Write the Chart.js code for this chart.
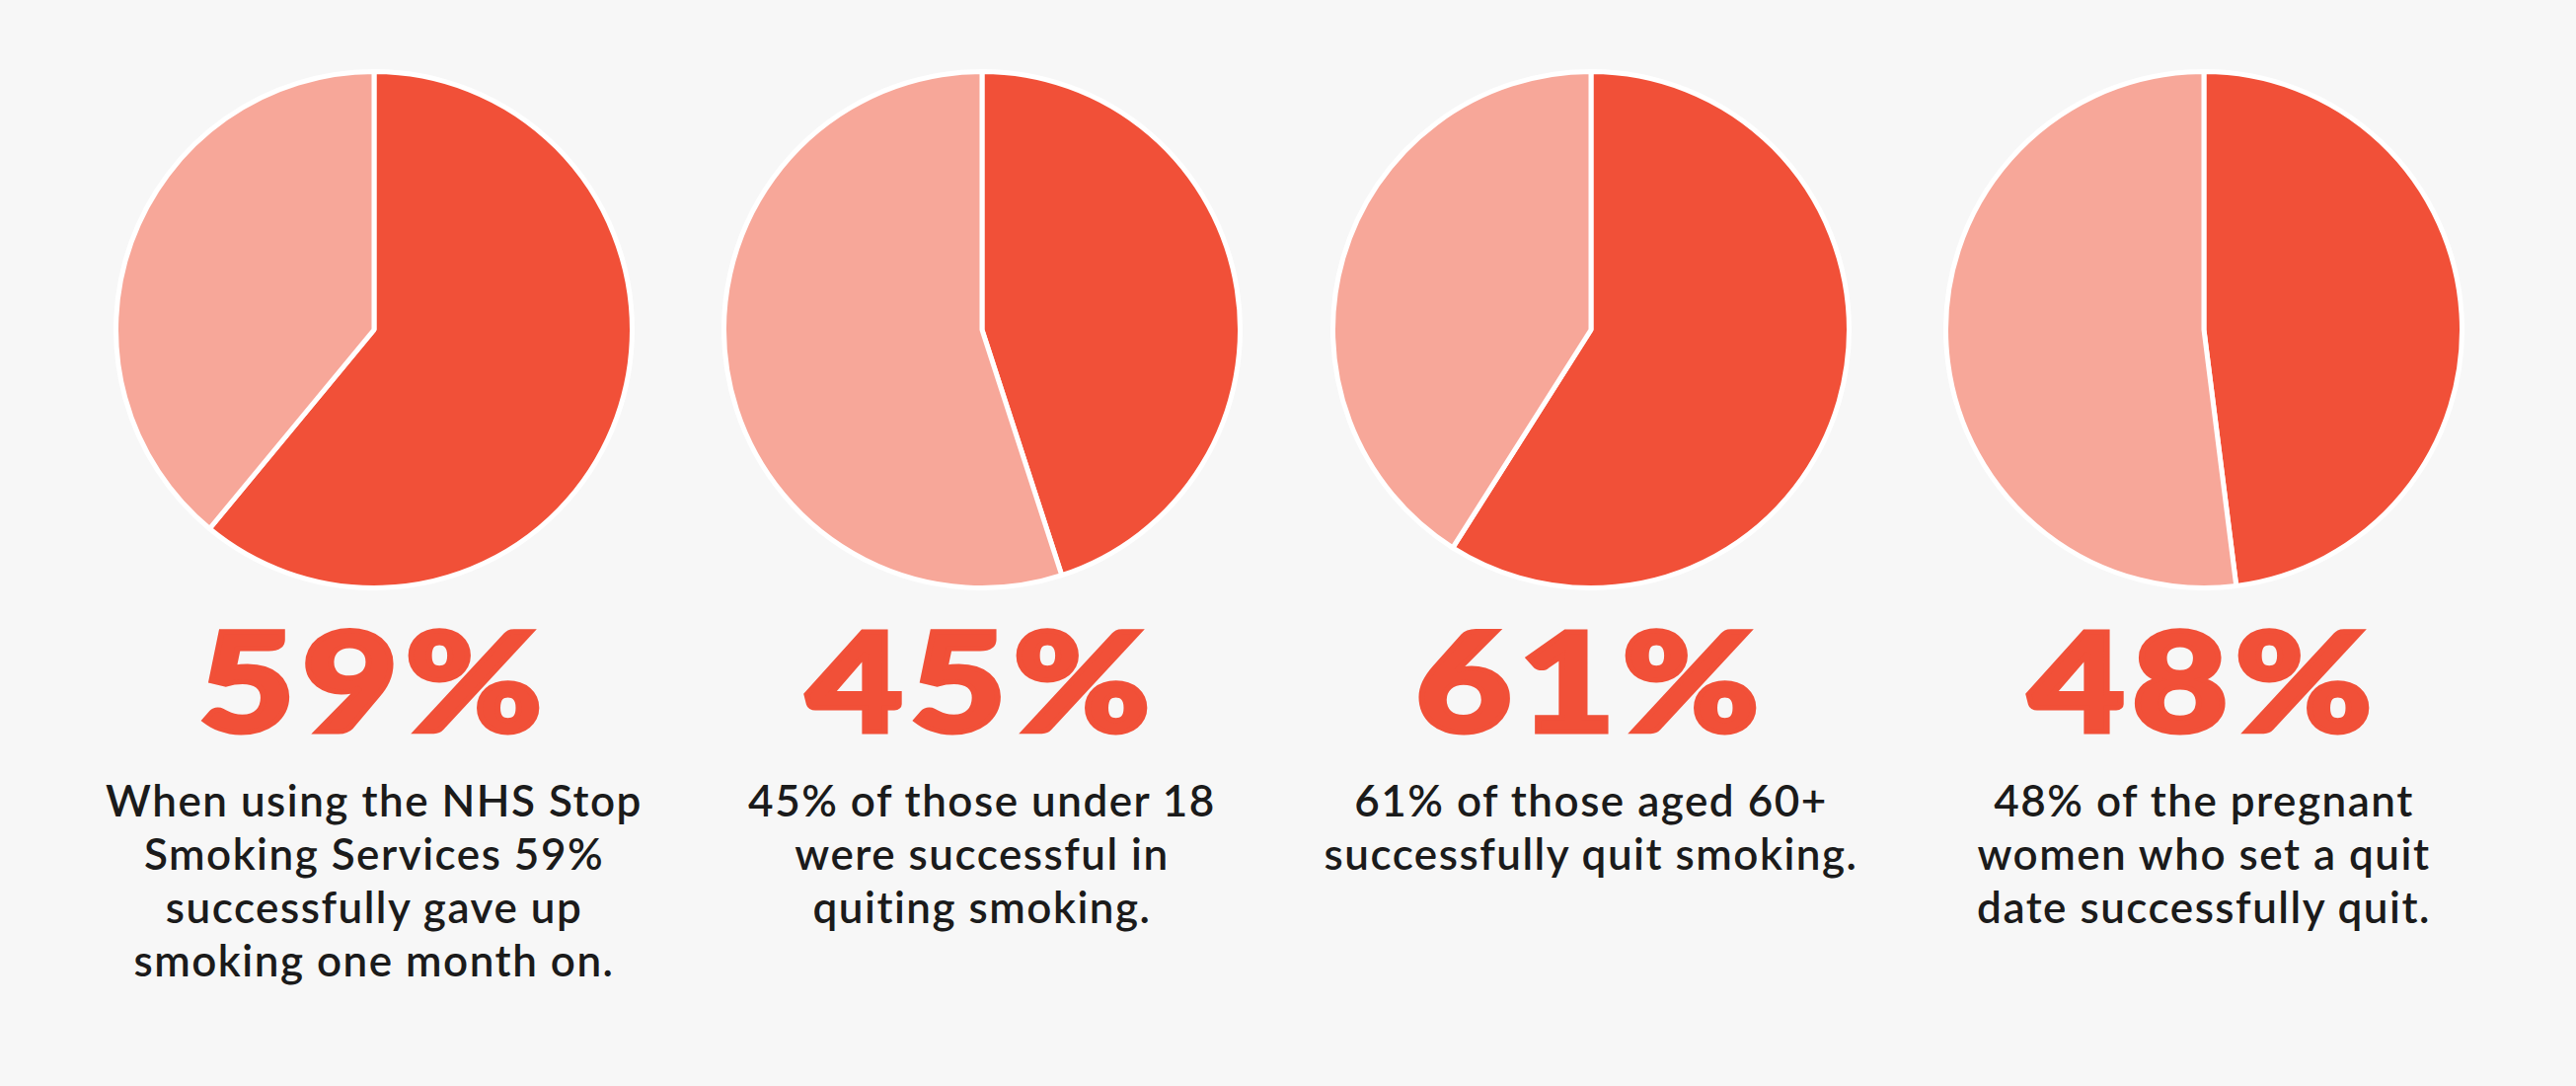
<!DOCTYPE html>
<html>
<head>
<meta charset="utf-8">
<script src="https://cdn.jsdelivr.net/npm/chart.js@4.4.1/dist/chart.umd.min.js"></script>
<style>
  html, body { margin: 0; padding: 0; background: #F7F7F7; width: 2610px; height: 1100px; overflow: hidden; }
  .pie { position: absolute; }
  .big { position: absolute; width: 600px; text-align: center; font-family: "Lato", sans-serif; font-weight: 900;
         font-size: 140px; line-height: 140px; color: #F15038; letter-spacing: 6px;
         -webkit-text-stroke: 5px #F15038; transform: scaleX(1.2); transform-origin: 50% 50%; }
  .cap { position: absolute; width: 600px; text-align: center; font-family: "Lato", sans-serif; font-weight: 600;
         font-size: 44px; line-height: 54px; color: #1b1b1b; letter-spacing: 1.5px; }
</style>
</head>
<body>
<script>
// ---- data ----
const categories = ["NHS Stop Smoking Services", "Under 18", "Aged 60+", "Pregnant women"];
const quitValues = [61, 45, 59, 48];          // slice (% successful)
const otherValues = [39, 55, 41, 52];         // remaining share
const bigLabels = ["59%", "45%", "61%", "48%"];
const captions = [
  ["When using the NHS Stop", "Smoking Services 59%", "successfully gave up", "smoking one month on."],
  ["45% of those under 18", "were successful in", "quiting smoking."],
  ["61% of those aged 60+", "successfully quit smoking."],
  ["48% of the pregnant", "women who set a quit", "date successfully quit."]
];

// ---- layout ----
const centersX = [379, 995, 1612, 2233];
const centerY = 334;
const size = 528;
const darkColor = "#F15038";
const lightColor = "#F7A799";

categories.forEach((cat, i) => {
  const c = document.createElement("canvas");
  c.className = "pie";
  c.width = size; c.height = size;
  c.style.left = (centersX[i] - size / 2) + "px";
  c.style.top = (centerY - size / 2) + "px";
  c.style.width = size + "px"; c.style.height = size + "px";
  document.body.appendChild(c);
  new Chart(c, {
    type: "pie",
    data: {
      labels: ["Quit", "Did not quit"],
      datasets: [{
        data: [quitValues[i], otherValues[i]],
        backgroundColor: [darkColor, lightColor],
        borderColor: "#FFFFFF",
        borderWidth: 5
      }]
    },
    options: {
      responsive: false,
      devicePixelRatio: 1,
      animation: false,
      rotation: 0,
      layout: { padding: 0 },
      plugins: { legend: { display: false }, tooltip: { enabled: false }, title: { display: false } }
    }
  });

  const big = document.createElement("div");
  big.className = "big";
  big.textContent = bigLabels[i];
  big.style.left = (centersX[i] - 300) + "px";
  big.style.top = "617px";
  document.body.appendChild(big);

  const cap = document.createElement("div");
  cap.className = "cap";
  cap.innerHTML = captions[i].join("<br>");
  cap.style.left = (centersX[i] - 300) + "px";
  cap.style.top = "783px";
  document.body.appendChild(cap);
});
</script>
</body>
</html>
